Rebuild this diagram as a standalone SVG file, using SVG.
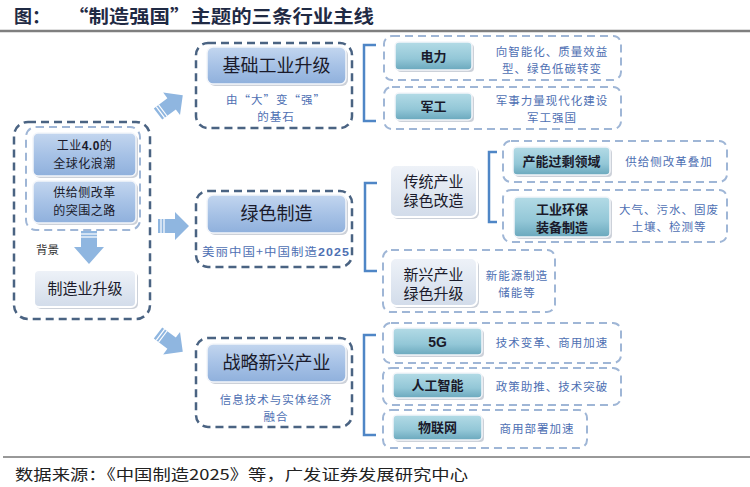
<svg xmlns="http://www.w3.org/2000/svg" width="750" height="487" viewBox="0 0 750 487">
<defs>
<linearGradient id="gBlue" x1="0" y1="0" x2="0" y2="1"><stop offset="0" stop-color="#c3d6ef"/><stop offset="0.5" stop-color="#a7c2e6"/><stop offset="1" stop-color="#8fb0dc"/></linearGradient>
<linearGradient id="gTeal" x1="0" y1="0" x2="0" y2="1"><stop offset="0" stop-color="#b3dbe6"/><stop offset="0.6" stop-color="#93c7d7"/><stop offset="1" stop-color="#6aa8bd"/></linearGradient>
<linearGradient id="gGray" x1="0" y1="0" x2="0" y2="1"><stop offset="0" stop-color="#eef2f8"/><stop offset="1" stop-color="#d2dcea"/></linearGradient>
<g id="barrow">
<polygon points="-15,-7 2,-7 2,-14 16,0 2,14 2,7 -15,7" fill="#8fb6e0"/>
<line x1="-12" y1="-7" x2="-12" y2="7" stroke="#ffffff" stroke-width="1.2"/>
<line x1="-9" y1="-7" x2="-9" y2="7" stroke="#ffffff" stroke-width="1.2"/>
</g>
</defs>
<style>
.cjk{font-family:"Noto Sans CJK SC","Liberation Sans",sans-serif;}
.title{font-size:18px;font-weight:bold;fill:#1f2a44;}
.src{font-size:15px;fill:#222;}
.dk{fill:none;stroke:#4a6382;stroke-width:2.5;stroke-dasharray:8 5;}
.lt{fill:none;stroke:#9fb6d6;stroke-width:2;stroke-dasharray:8 5;}
.shadow{fill:#8f9aab;opacity:0.45;}
.blue{fill:url(#gBlue);stroke:#f4f6fa;stroke-width:1.5;}
.teal{fill:url(#gTeal);stroke:#f4f6fa;stroke-width:1.5;}
.gray{fill:url(#gGray);stroke:#ffffff;stroke-width:2;}
.l1{font-size:18px;fill:#1a1a2a;text-anchor:middle;}
.l2{font-size:13px;font-weight:bold;fill:#1a1a2a;text-anchor:middle;}
.l3{font-size:15px;fill:#1a1a2a;text-anchor:middle;}
.ann{font-size:11.5px;letter-spacing:1px;fill:#4e70b3;text-anchor:middle;}
.lb{font-size:12px;letter-spacing:0.5px;fill:#1a1a2a;text-anchor:middle;}
.br{fill:none;stroke:#4f86c6;stroke-width:2.5;}
</style>
<rect width="750" height="487" fill="#ffffff"/>

<g id="title">
<text class="cjk title" x="14" y="23">图：</text>
<text class="cjk title" x="68" y="23" textLength="306" lengthAdjust="spacingAndGlyphs">“制造强国”主题的三条行业主线</text>
<line x1="0" y1="31" x2="750" y2="31" stroke="#7f7f7f" stroke-width="2.5"/>
</g>

<g id="background">
<rect class="dk" x="14" y="122" width="136" height="197" rx="14"/>
<rect class="lt" x="26" y="127" width="114" height="103" rx="10"/>
<rect class="shadow" x="35" y="135" width="103" height="43" rx="5"/>
<rect class="blue" x="33" y="133" width="103" height="43" rx="5"/>
<text class="cjk lb" x="84.5" y="150">工业<tspan font-family="Liberation Sans" font-weight="bold">4.0</tspan>的</text>
<text class="cjk lb" x="84.5" y="168">全球化浪潮</text>
<rect class="shadow" x="35" y="183" width="103" height="42" rx="5"/>
<rect class="blue" x="33" y="181" width="103" height="42" rx="5"/>
<text class="cjk lb" x="84.5" y="197">供给侧改革</text>
<text class="cjk lb" x="84.5" y="215">的突围之路</text>
<polygon points="81,231 97,231 97,247 104,247 89,264 74,247 81,247" fill="#8fb6e0"/>
<line x1="81" y1="234" x2="97" y2="234" stroke="#fff" stroke-width="1.2"/>
<line x1="81" y1="237" x2="97" y2="237" stroke="#fff" stroke-width="1.2"/>
<text class="cjk" x="36" y="254" font-size="11.5" fill="#333">背景</text>
<rect class="shadow" x="36" y="272" width="102" height="37" rx="5"/>
<rect class="gray" x="34" y="270" width="102" height="37" rx="5"/>
<text class="cjk l3" x="85" y="294">制造业升级</text>
</g>

<g id="connectors">
<use href="#barrow" transform="translate(170,105) rotate(-37)"/>
<use href="#barrow" transform="translate(173,226)"/>
<use href="#barrow" transform="translate(170,342) rotate(37)"/>
<path class="br" d="M376,45 H364 V121 H376"/>
<path class="br" d="M377,183 H365 V271 H377"/>
<path class="br" d="M376,335 H364 V435 H376"/>
<path class="br" d="M497,152 H489 V222 H497"/>
</g>

<g id="basic-industry">
<rect class="dk" x="196" y="43" width="156" height="85" rx="12"/>
<rect class="shadow" x="209" y="49" width="139" height="37" rx="6"/>
<rect class="blue" x="207" y="47" width="139" height="37" rx="6"/>
<text class="cjk l1" x="276.5" y="72">基础工业升级</text>
<text class="cjk ann" x="276" y="104">由“大”变“强”</text>
<text class="cjk ann" x="276" y="121">的基石</text>
</g>

<g id="green-mfg">
<rect class="dk" x="196" y="191" width="156" height="76" rx="12"/>
<rect class="shadow" x="209" y="197" width="139" height="38" rx="6"/>
<rect class="blue" x="207" y="195" width="139" height="38" rx="6"/>
<text class="cjk l1" x="276.5" y="220">绿色制造</text>
<text class="cjk ann" x="276" y="256" textLength="148" lengthAdjust="spacingAndGlyphs">美丽中国+中国制造<tspan font-family="Liberation Sans" font-weight="bold">2025</tspan></text>
</g>

<g id="strategic">
<rect class="dk" x="196" y="338" width="156" height="89" rx="12"/>
<rect class="shadow" x="209" y="346" width="139" height="38" rx="6"/>
<rect class="blue" x="207" y="344" width="139" height="38" rx="6"/>
<text class="cjk l1" x="276.5" y="369">战略新兴产业</text>
<text class="cjk ann" x="276" y="404">信息技术与实体经济</text>
<text class="cjk ann" x="276" y="421">融合</text>
</g>

<g id="power">
<rect class="lt" x="384" y="36" width="237" height="44" rx="8"/>
<rect class="shadow" x="397" y="44" width="77" height="28" rx="4"/>
<rect class="teal" x="395" y="42" width="77" height="28" rx="4"/>
<text class="cjk l2" x="433.5" y="61">电力</text>
<text class="cjk ann" x="552" y="56">向智能化、质量效益</text>
<text class="cjk ann" x="552" y="73">型、绿色低碳转变</text>
</g>

<g id="military">
<rect class="lt" x="384" y="87" width="237" height="42" rx="8"/>
<rect class="shadow" x="397" y="95" width="77" height="27" rx="4"/>
<rect class="teal" x="395" y="93" width="77" height="27" rx="4"/>
<text class="cjk l2" x="433.5" y="111">军工</text>
<text class="cjk ann" x="552" y="105">军事力量现代化建设</text>
<text class="cjk ann" x="552" y="122">军工强国</text>
</g>

<g id="traditional">
<rect class="shadow" x="392" y="167" width="87" height="52" rx="6"/>
<rect class="gray" x="390" y="165" width="87" height="52" rx="6"/>
<text class="cjk l3" x="433.5" y="187">传统产业</text>
<text class="cjk l3" x="433.5" y="206">绿色改造</text>
</g>

<g id="overcapacity">
<rect class="lt" x="503" y="141" width="224" height="41" rx="8"/>
<rect class="shadow" x="515" y="149" width="97" height="28" rx="4"/>
<rect class="teal" x="513" y="147" width="97" height="28" rx="4"/>
<text class="cjk l2" x="561.5" y="166" font-size="14">产能过剩领域</text>
<text class="cjk ann" x="669" y="166">供给侧改革叠加</text>
</g>

<g id="env-equip">
<rect class="lt" x="503" y="190" width="224" height="52" rx="8"/>
<rect class="shadow" x="516" y="199" width="96" height="40" rx="4"/>
<rect class="teal" x="514" y="197" width="96" height="40" rx="4"/>
<text class="cjk l2" x="562" y="214">工业环保</text>
<text class="cjk l2" x="562" y="232">装备制造</text>
<text class="cjk ann" x="669" y="214">大气、污水、固废</text>
<text class="cjk ann" x="669" y="231">土壤、检测等</text>
</g>

<g id="emerging">
<rect class="lt" x="383" y="250" width="172" height="62" rx="8"/>
<rect class="shadow" x="392" y="260" width="87" height="48" rx="6"/>
<rect class="gray" x="390" y="258" width="87" height="48" rx="6"/>
<text class="cjk l3" x="433.5" y="280">新兴产业</text>
<text class="cjk l3" x="433.5" y="299">绿色升级</text>
<text class="cjk ann" x="517" y="280">新能源制造</text>
<text class="cjk ann" x="517" y="297">储能等</text>
</g>

<g id="g5">
<rect class="lt" x="383" y="323" width="238" height="40" rx="8"/>
<rect class="shadow" x="395" y="330" width="89" height="27" rx="4"/>
<rect class="teal" x="393" y="328" width="89" height="27" rx="4"/>
<text x="437.5" y="347" font-family="Liberation Sans" font-weight="bold" font-size="14" fill="#1a1a2a" text-anchor="middle">5G</text>
<text class="cjk ann" x="552" y="347">技术变革、商用加速</text>
</g>

<g id="ai">
<rect class="lt" x="383" y="368" width="238" height="37" rx="8"/>
<rect class="shadow" x="395" y="375" width="89" height="25" rx="4"/>
<rect class="teal" x="393" y="373" width="89" height="25" rx="4"/>
<text class="cjk l2" x="437.5" y="390">人工智能</text>
<text class="cjk ann" x="552" y="391">政策助推、技术突破</text>
</g>

<g id="iot">
<rect class="lt" x="383" y="410" width="204" height="38" rx="8"/>
<rect class="shadow" x="395" y="417" width="89" height="25" rx="4"/>
<rect class="teal" x="393" y="415" width="89" height="25" rx="4"/>
<text class="cjk l2" x="437.5" y="432">物联网</text>
<text class="cjk ann" x="537" y="433">商用部署加速</text>
</g>

<g id="source">
<line x1="3" y1="457" x2="750" y2="457" stroke="#333" stroke-width="1"/>
<text class="cjk src" x="15" y="480" textLength="453" lengthAdjust="spacingAndGlyphs">数据来源：《中国制造2025》等，广发证券发展研究中心</text>
</g>
</svg>
